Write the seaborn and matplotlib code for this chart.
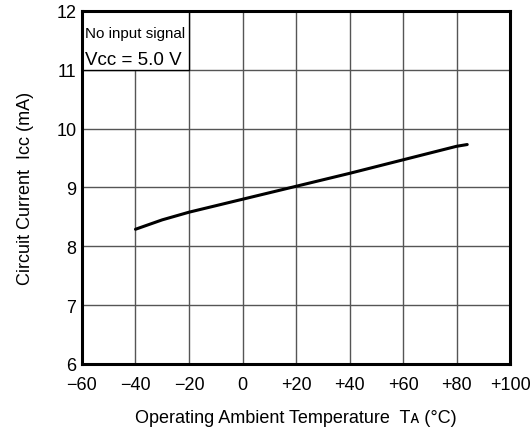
import matplotlib
matplotlib.use("Agg")
import matplotlib.pyplot as plt
import matplotlib.patches as mpatches
import seaborn as sns
import pandas as pd

temperature = [-40, -30, -20, -10, 0, 20, 40, 60, 80, 84]
current = [8.29, 8.45, 8.58, 8.69, 8.80, 9.02, 9.24, 9.47, 9.70, 9.73]
x_ticks = [-60, -40, -20, 0, 20, 40, 60, 80, 100]
x_tick_labels = ["\u221260", "\u221240", "\u221220", "0", "+20", "+40", "+60", "+80", "+100"]
y_ticks = [6, 7, 8, 9, 10, 11, 12]

sns.set_theme(style="white")
plt.rcParams['font.family'] = ['Liberation Sans', 'DejaVu Sans']

fig = plt.figure(figsize=(5.3, 4.39), dpi=100)
ax = fig.add_axes([0.1547, 0.1686, 0.8076, 0.8041])

df = pd.DataFrame({"T": temperature, "I": current})
sns.lineplot(data=df, x="T", y="I", ax=ax, color="black", linewidth=2.2, zorder=5)

ax.set_xlim(-60, 100)
ax.set_ylim(6, 12)
ax.set_xticks(x_ticks)
ax.set_xticklabels(x_tick_labels)
ax.set_yticks(y_ticks)
ax.tick_params(axis="both", length=0, labelsize=13, colors="black")
ax.tick_params(axis="x", pad=9)
ax.tick_params(axis="y", pad=4)
ax.grid(True, color="#555555", linewidth=1.0)
for s in ax.spines.values():
    s.set_color("black")
    s.set_linewidth(2.2)
    s.set_visible(True)
    s.set_zorder(6)

rect = mpatches.Rectangle((-60, 11), 40, 1, facecolor="white", edgecolor="black",
                          linewidth=1.0, zorder=3)
ax.add_patch(rect)
ax.text(-58.7, 11.555, "No input signal", fontsize=10.9,
        va="baseline", ha="left", zorder=4, color="black")
ax.text(-58.7, 11.10, "V\u1d04\u1d04 = 5.0 V", fontsize=13.5,
        va="baseline", ha="left", zorder=4, color="black")

ax.set_xlabel("Operating Ambient Temperature  T\u1d00 (\u00b0C)", fontsize=13,
              color="black", labelpad=11)
ax.set_ylabel("Circuit Current  I\u1d04\u1d04 (mA)", fontsize=13, color="black",
              labelpad=16)

fig.savefig("out.png", dpi=100)
